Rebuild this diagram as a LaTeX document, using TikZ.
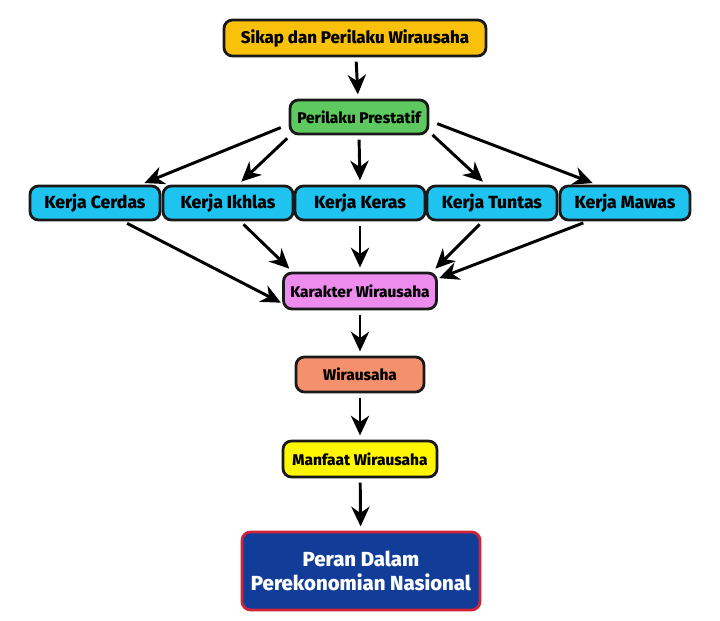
\documentclass[tikz,border=0pt]{standalone}
\usepackage{fontspec}
\setmainfont{Fira Sans}[BoldFont={Fira Sans ExtraBold}]
\usetikzlibrary{arrows.meta, positioning}
\definecolor{sgold} {RGB}{249,193, 10}
\definecolor{pgrn}  {RGB}{ 93,201, 94}
\definecolor{kcyan} {RGB}{ 30,195,240}
\definecolor{kpink} {RGB}{238,140,238}
\definecolor{wsalm} {RGB}{244,144,108}
\definecolor{myell} {RGB}{255,247,  0}
\definecolor{nblue} {RGB}{ 17, 60,151}
\definecolor{nred}  {RGB}{208, 36, 58}
\definecolor{edge}  {RGB}{ 25, 25, 25}
\tikzset{
  % Common box look
  Box/.style={rectangle,rounded corners=6pt,draw=edge,line width=2pt,
              inner sep=0pt,align=center,font=\bfseries\fontsize{11}{13}\selectfont},
  % Gold top node
  YB/.style={Box,fill=sgold,minimum width=6.55cm,minimum height=0.9cm,
             font=\bfseries\fontsize{12}{14}\selectfont},
  % Green behaviour node
  GB/.style={Box,fill=pgrn,minimum width=3.45cm,minimum height=0.85cm},
  % Cyan work node
  CB/.style={Box,fill=kcyan,minimum width=3.25cm,minimum height=0.85cm,
             font=\bfseries\fontsize{12.5}{14}\selectfont},
  % Pink character node
  KB/.style={Box,fill=kpink,minimum width=3.825cm,minimum height=0.9cm},
  % Salmon entrepreneur node
  OB/.style={Box,fill=wsalm,minimum width=3.2cm,minimum height=0.875cm},
  % Yellow benefit node
  MB/.style={Box,fill=myell,minimum width=3.85cm,minimum height=0.9cm},
  % Blue final node
  NB/.style={Box,fill=nblue,draw=nred,text=white,minimum width=5.95cm,
             minimum height=1.95cm,font=\bfseries\fontsize{14.5}{17}\selectfont},
  % Arrows
  Arr/.style={-{Stealth[length=14pt,width=13pt,inset=4.5pt]},line width=2.1pt,
              color=black,shorten <=3pt,shorten >=3pt},
}
\begin{document}
\begin{tikzpicture}
  \useasboundingbox (0,0) rectangle (18,15.525);
  \node[YB] at (8.875,14.575) (sikap) {Sikap dan Perilaku Wirausaha};
  \node[GB] at (8.975,12.6) (prest) {Perilaku Prestatif};
  \draw[Arr] (sikap)--(prest);
  \node[CB] at (2.375,10.45) (cerdas) {Kerja Cerdas};
  \node[CB] at (5.7,10.45)   (ikhlas) {Kerja Ikhlas};
  \node[CB] at (9.0,10.45)   (keras)  {Kerja Keras};
  \node[CB] at (12.3,10.45)  (tuntas) {Kerja Tuntas};
  \node[CB] at (15.625,10.45) (mawas) {Kerja Mawas};
  \draw[Arr,shorten <=6pt] (prest.186)--(cerdas.22);
  \draw[Arr] (prest.195)--(ikhlas.61);
  \draw[Arr] (prest.south)--(keras.north);
  \draw[Arr] (prest.348)--(tuntas.108);
  \draw[Arr,shorten <=6pt] (prest.357)--(mawas.147);
  \node[KB] at (9.0,8.25) (karakter) {Karakter Wirausaha};
  \draw[Arr,shorten >=1pt] (cerdas.327)--(karakter.189);
  \draw[Arr] (ikhlas.304)--(karakter.164);
  \draw[Arr] (keras.south)--(karakter.north);
  \draw[Arr] (tuntas.243)--(karakter.15);
  \draw[Arr,shorten >=1pt] (mawas.206)--(karakter.9);
  \node[OB] at (9.0,6.1625) (wira) {Wirausaha};
  \draw[Arr] (karakter)--(wira);
  \node[MB] at (9.0,4.05) (manfaat) {Manfaat Wirausaha};
  \draw[Arr] (wira)--(manfaat);
  \node[NB] at (9.025,1.25) (peran) {Peran Dalam\\Perekonomian Nasional};
  \draw[Arr] (manfaat)--(peran);
\end{tikzpicture}
\end{document}
